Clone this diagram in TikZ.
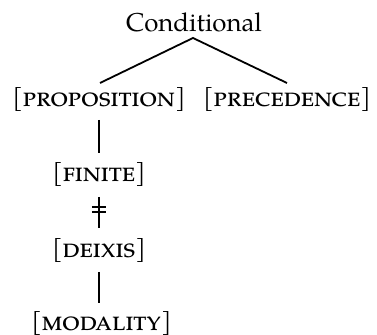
\documentclass[tikz,border=0pt]{standalone}
\usepackage{fontspec}
\setmainfont{TeX Gyre Pagella}
\usetikzlibrary{calc}
% a feature label: small capitals between square brackets
\newcommand{\featlabel}[1]{%
  \raisebox{0.75pt}{\fontsize{12}{14}\selectfont[}%
  {\fontsize{14.8}{16}\selectfont\textsc{#1}}%
  \raisebox{0.75pt}{\fontsize{12}{14}\selectfont]}}
\begin{document}
\begin{tikzpicture}[x=0.5pt,y=-0.5pt,
  feat/.style={inner sep=0pt,anchor=base},
  link/.style={line width=0.9pt}]
\useasboundingbox (0,0) rectangle (377,335);
% nodes, placed by baseline
\node[feat,font=\fontsize{12.9}{15}\selectfont] (cond) at (194,32) {Conditional};
\node[feat] (prop) at (99,107) {\featlabel{proposition}};
\node[feat] (prec) at (287,107) {\featlabel{precedence}};
\node[feat] (fin)  at (99,182) {\featlabel{finite}};
\node[feat] (deix) at (99,258) {\featlabel{deixis}};
\node[feat] (mod)  at (101.5,331) {\featlabel{modality}};
% branches
\coordinate (apex) at ($(cond.base)+(-1,6)$);
\draw[link] ($(prop.base)+(1,-24)$) -- (apex) -- ($(prec.base)+(0,-24)$);
% associations
\draw[link] ($(prop.base)+(0,13)$) -- ($(fin.base)+(0,-29)$);
\draw[link] ($(fin.base)+(0,15)$) coordinate (d1) -- ($(deix.base)+(0,-30)$) coordinate (d2);
\draw[link] ($(deix.base)+(0,14)$) -- ($(mod.base)+(-2.5,-28)$);
% delinking marks
\draw[link] ($(d1)!0.32!(d2)+(-7,0)$) -- ++(14,0);
\draw[link] ($(d1)!0.48!(d2)+(-7,0)$) -- ++(14,0);
\end{tikzpicture}
\end{document}
